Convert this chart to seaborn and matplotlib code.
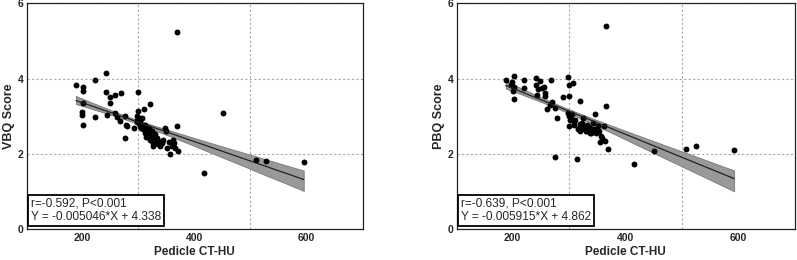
import numpy as np
import pandas as pd
import matplotlib
matplotlib.use("Agg")
import matplotlib.pyplot as plt
import seaborn as sns

# Valores (Pedicle CT-HU vs VBQ / PBQ)
vbq_hu = [189, 243, 223, 202, 202, 202, 199, 199, 202, 223, 243, 250, 250, 258, 269,
          244, 259, 263, 267, 276, 279, 277, 280, 292, 300, 299, 297, 297, 301, 304,
          307, 310, 313, 321, 318, 318, 321, 324, 327, 330, 333, 336, 339, 342, 348,
          349, 351, 357, 360, 362, 364, 366, 369, 371, 370, 417, 452, 510, 528, 595,
          298, 302, 305, 309, 312, 315, 319, 322, 325, 316, 320, 326, 331, 335, 345,
          355, 303, 308, 311, 314]
vbq_score = [3.84, 4.15, 3.97, 3.78, 3.66, 3.34, 3.11, 3.02, 2.78, 2.97, 3.65, 3.51, 3.35,
             3.57, 3.62, 3.02, 3.09, 2.98, 2.87, 3.00, 2.78, 2.41, 2.74, 2.69, 3.65, 3.13,
             3.00, 2.91, 2.82, 2.74, 2.96, 3.18, 2.78, 3.33, 2.69, 2.56, 2.38, 2.60, 2.21,
             2.52, 2.43, 2.34, 2.21, 2.29, 2.69, 2.60, 2.16, 2.01, 2.21, 2.38, 2.29, 2.16,
             2.75, 2.07, 5.23, 1.50, 3.09, 1.85, 1.80, 1.78,
             2.85, 2.95, 2.70, 2.65, 2.55, 2.60, 2.50, 2.62, 2.45, 2.48, 2.70, 2.30, 2.36,
             2.27, 2.38, 2.32, 2.88, 2.72, 2.66, 2.44]

pbq_hu = [189, 203, 200, 198, 203, 202, 203, 222, 222, 243, 250, 243, 246, 244, 253,
          257, 259, 259, 269, 261, 267, 271, 276, 279, 276, 291, 299, 300, 300, 308,
          299, 300, 301, 303, 306, 309, 321, 315, 312, 318, 321, 324, 326, 328, 331,
          332, 335, 338, 341, 344, 347, 349, 352, 353, 356, 360, 363, 365, 367, 367,
          369, 416, 451, 508, 526, 593,
          305, 310, 316, 320, 325, 330, 336, 340, 345, 357]
pbq_score = [3.97, 4.08, 3.90, 3.84, 3.78, 3.66, 3.46, 3.97, 3.75, 4.02, 3.93, 3.84, 3.72,
             3.57, 3.75, 3.77, 3.62, 3.53, 3.97, 3.20, 3.31, 3.37, 3.22, 2.96, 1.92, 3.51,
             4.04, 3.84, 3.53, 3.88, 3.09, 3.00, 2.74, 2.91, 3.05, 2.78, 3.40, 1.87, 2.91,
             2.69, 2.60, 2.82, 2.96, 2.74, 2.60, 2.78, 2.69, 2.56, 2.65, 2.82, 3.05, 2.56,
             2.74, 2.60, 2.31, 2.43, 2.75, 2.34, 3.27, 5.38, 2.14, 1.74, 2.09, 2.12, 2.22,
             2.10,
             2.95, 2.85, 2.65, 2.80, 2.70, 2.62, 2.72, 2.55, 2.66, 2.48]

vbq_text = "r=-0.592, P<0.001\nY = -0.005046*X + 4.338"
pbq_text = "r=-0.639, P<0.001\nY = -0.005915*X + 4.862"

df_vbq = pd.DataFrame({"hu": vbq_hu, "score": vbq_score})
df_pbq = pd.DataFrame({"hu": pbq_hu, "score": pbq_score})

sns.set_style("white")
plt.rcParams["font.family"] = ["Liberation Sans", "DejaVu Sans"]

fig = plt.figure(figsize=(7.97, 2.60), dpi=100)
ax1 = fig.add_axes([0.034, 0.118, 0.421, 0.870])
ax2 = fig.add_axes([0.573, 0.118, 0.424, 0.870])

paneles = [(ax1, df_vbq, "VBQ Score", vbq_text), (ax2, df_pbq, "PBQ Score", pbq_text)]

for ax, d, ylab, txt in paneles:
    sns.regplot(data=d, x="hu", y="score", ax=ax, ci=68, n_boot=2000, seed=3, truncate=True,
                scatter_kws={"s": 18, "color": "black", "alpha": 1, "linewidths": 0, "zorder": 3},
                line_kws={"color": "#222222", "lw": 0.9, "zorder": 4})
    # banda de confianza en gris
    for coll in ax.collections[1:]:
        coll.set_facecolor("#999999")
        coll.set_alpha(1)
        coll.set_edgecolor("#777777")
        coll.set_linewidth(0.6)
    ax.set_xlim(102, 700)
    ax.set_ylim(0, 6)
    ax.set_xticks([200, 400, 600])
    ax.set_xticks([300, 500], minor=True)
    ax.set_yticks([0, 2, 4, 6])
    ax.set_yticks([], minor=True)
    ax.xaxis.grid(True, which="minor", linestyle=(0, (2, 2)), color="#aaaaaa", lw=0.8)
    ax.yaxis.grid(True, which="major", linestyle=(0, (2, 2)), color="#aaaaaa", lw=0.8)
    ax.set_axisbelow(True)
    ax.tick_params(axis="both", which="major", direction="in", length=3, width=0.8,
                   labelsize=7.5, pad=2.5)
    ax.tick_params(axis="both", which="minor", length=0)
    for lab in ax.get_xticklabels() + ax.get_yticklabels():
        lab.set_fontweight("bold")
    for sp in ax.spines.values():
        sp.set_color("#222222")
        sp.set_linewidth(0.9)
    ax.set_xlabel("Pedicle CT-HU", fontsize=8.5, fontweight="bold", labelpad=2)
    ax.set_ylabel(ylab, fontsize=9, fontweight="bold", labelpad=2)
    ax.text(0.012, 0.03, txt, transform=ax.transAxes, fontsize=8.6, va="bottom",
            ha="left", linespacing=1.1, zorder=6,
            bbox=dict(boxstyle="square,pad=0.25", facecolor="white", edgecolor="black", lw=1.3))

fig.savefig("out.png", dpi=100)
